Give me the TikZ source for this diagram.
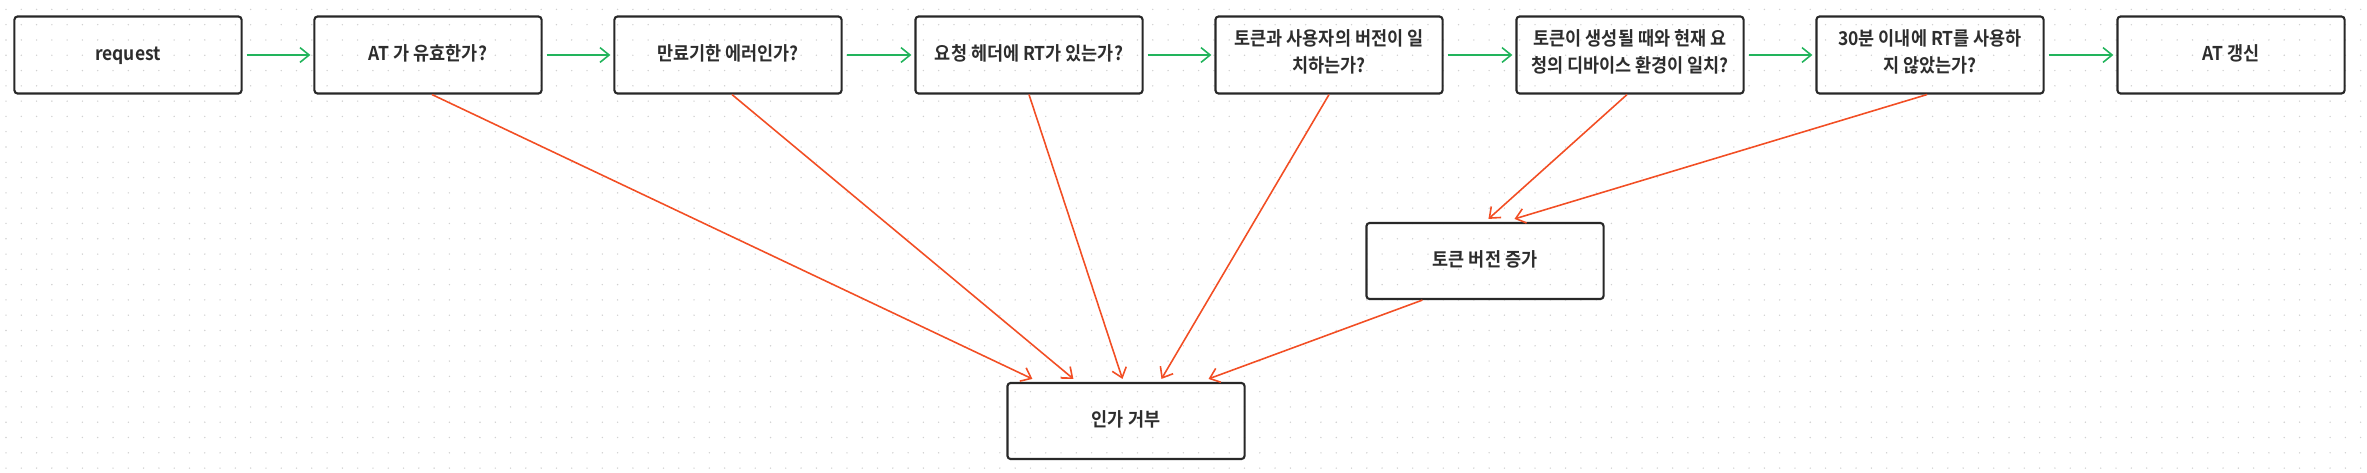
\documentclass[tikz,border=0pt]{standalone}
\usepackage{fontspec}
\setmainfont{Noto Sans CJK KR}[BoldFont={Noto Sans CJK KR Bold}, FakeStretch=0.92]
\usetikzlibrary{arrows.meta}
\definecolor{okgreen}{RGB}{34,180,92}
\definecolor{failred}{RGB}{242,78,36}
\definecolor{edgegray}{RGB}{40,40,40}
\definecolor{textgray}{RGB}{45,45,45}
\definecolor{dotgray}{RGB}{208,208,208}

\begin{document}
\begin{tikzpicture}[x=0.01cm,y=-0.01cm,
		flowbox/.style={draw=edgegray, line width=0.6pt, rounded corners=0.9pt, minimum width=2.27cm, minimum height=0.77cm, inner sep=0pt, align=center, text=textgray, font=\fontsize{5.4}{7.7}\selectfont\bfseries, execute at begin node=\strut, execute at end node=\strut},
		widebox/.style={flowbox, minimum width=2.37cm, minimum height=0.76cm},
		passarrow/.style={->, draw=okgreen, line width=0.45pt, shorten <=0.04cm, shorten >=0.03cm},
		failarrow/.style={->, draw=failred, line width=0.45pt},
		>={Straight Barb[length=2.6pt,width=4.2pt]}]
		\useasboundingbox (0,0) rectangle (2367,473);
		% dot grid
		\foreach \i in {0,...,154}
			\foreach \j in {0,...,30}
				\fill[dotgray] (6+15.29*\i, 9.4+15.29*\j) circle[radius=0.22pt];
		
		\node[flowbox] (req) at (128,55) {request};
		\node[flowbox] (atvalid) at (428,55) {AT 가 유효한가?};
		\node[flowbox] (expired) at (728,55) {만료기한 에러인가?};
		\node[flowbox] (rthead) at (1029,55) {요청 헤더에 RT가 있는가?};
		\node[flowbox] (vermatch) at (1329,55) {토큰과 사용자의 버전이 일\\치하는가?};
		\node[flowbox] (devmatch) at (1630,55) {토큰이 생성될 때와 현재 요\\청의 디바이스 환경이 일치?};
		\node[flowbox] (rtused) at (1930,55) {30분 이내에 RT를 사용하\\지 않았는가?};
		\node[flowbox] (atrenew) at (2231,55) {AT 갱신};
		\node[widebox] (verup) at (1485,261) {토큰 버전 증가};
		\node[widebox] (deny) at (1126,421) {인가 거부};
		
		\draw[passarrow] (req) -- (atvalid);
		\draw[passarrow] (atvalid) -- (expired);
		\draw[passarrow] (expired) -- (rthead);
		\draw[passarrow] (rthead) -- (vermatch);
		\draw[passarrow] (vermatch) -- (devmatch);
		\draw[passarrow] (devmatch) -- (rtused);
		\draw[passarrow] (rtused) -- (atrenew);
		
		\draw[failarrow] ([xshift=0.04cm]atvalid.south) -- ([xshift=0.26cm,yshift=0.03cm]deny.north west);
		\draw[failarrow] ([xshift=0.04cm]expired.south) -- ([xshift=0.67cm,yshift=0.03cm]deny.north west);
		\draw[failarrow] (rthead.south) -- ([xshift=1.16cm,yshift=0.03cm]deny.north west);
		\draw[failarrow] (vermatch.south) -- ([xshift=1.55cm,yshift=0.03cm]deny.north west);
		\draw[failarrow] ([xshift=0.57cm]verup.south west) -- ([xshift=2.02cm,yshift=0.03cm]deny.north west);
		\draw[failarrow] ([xshift=-0.03cm]devmatch.south) -- ([xshift=1.23cm,yshift=0.03cm]verup.north west);
		\draw[failarrow] ([xshift=-0.03cm]rtused.south) -- ([xshift=1.49cm,yshift=0.03cm]verup.north west);
\end{tikzpicture}
\end{document}
